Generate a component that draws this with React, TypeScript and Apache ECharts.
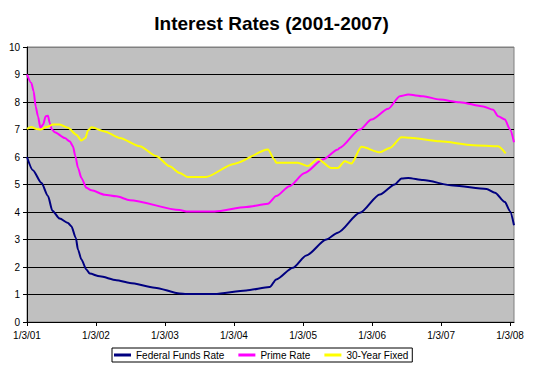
import React, { useEffect, useRef } from "react";
import * as echarts from "echarts";

const titleText = "Interest Rates (2001-2007)";
const seriesNames = ["Federal Funds Rate", "Prime Rate", "30-Year Fixed"];
const seriesColors = ["#000080", "#FF00FF", "#FFFF00"];
const xTickDates = ["2001-01-03", "2002-01-03", "2003-01-03", "2004-01-03", "2005-01-03", "2006-01-03", "2007-01-03", "2008-01-03"];
const xMinDate = "2001-01-03";
const xMaxDate = "2008-01-24";
const yTicks = [0, 1, 2, 3, 4, 5, 6, 7, 8, 9, 10];

const fedFunds: [string, number][] = [
  ["2001-01-03", 6.0], ["2001-02-03", 5.52], ["2001-03-20", 5.06], ["2001-04-24", 4.58],
  ["2001-05-17", 4.05], ["2001-06-25", 3.76], ["2001-08-08", 3.6], ["2001-08-26", 3.48],
  ["2001-09-18", 3.06], ["2001-09-30", 2.63], ["2001-10-18", 2.27], ["2001-11-13", 1.91],
  ["2001-12-01", 1.76], ["2002-01-23", 1.66], ["2002-04-21", 1.52], ["2002-07-01", 1.42],
  ["2002-11-10", 1.25], ["2003-03-22", 1.04], ["2003-04-26", 1.02], ["2003-09-22", 1.02],
  ["2004-03-08", 1.15], ["2004-07-10", 1.27], ["2004-08-14", 1.55], ["2004-11-10", 1.97],
  ["2005-01-20", 2.42], ["2005-05-06", 3.0], ["2005-07-06", 3.25], ["2005-10-30", 3.97],
  ["2006-02-13", 4.64], ["2006-05-03", 5.0], ["2006-06-08", 5.22], ["2006-07-13", 5.24],
  ["2006-09-30", 5.16], ["2007-03-08", 4.96], ["2007-09-01", 4.84], ["2007-10-15", 4.7],
  ["2007-12-07", 4.36], ["2008-01-03", 4.03], ["2008-01-24", 3.52],
];

const primeRate: [string, number][] = [
  ["2001-01-03", 9.0], ["2001-01-26", 8.69], ["2001-02-07", 8.39], ["2001-02-18", 7.84],
  ["2001-03-02", 7.48], ["2001-03-15", 7.06], ["2001-03-29", 7.18], ["2001-04-12", 7.48],
  ["2001-04-24", 7.5], ["2001-05-03", 7.24], ["2001-05-15", 7.0], ["2001-05-30", 6.9],
  ["2001-07-22", 6.69], ["2001-08-17", 6.57], ["2001-09-03", 6.39], ["2001-09-16", 6.03],
  ["2001-09-30", 5.6], ["2001-10-18", 5.24], ["2001-11-13", 4.88], ["2001-12-10", 4.79],
  ["2002-02-18", 4.63], ["2002-04-21", 4.57], ["2002-07-01", 4.43], ["2003-03-22", 4.07],
  ["2003-04-26", 4.02], ["2003-09-22", 4.02], ["2004-03-08", 4.18], ["2004-07-01", 4.3],
  ["2004-08-14", 4.58], ["2004-10-23", 4.94], ["2005-01-11", 5.42], ["2005-04-18", 5.91],
  ["2005-07-06", 6.27], ["2005-07-15", 6.33], ["2005-10-30", 7.0], ["2005-12-31", 7.36],
  ["2006-03-29", 7.75], ["2006-05-30", 8.21], ["2006-07-13", 8.27], ["2006-09-30", 8.21],
  ["2006-12-27", 8.09], ["2007-04-12", 7.99], ["2007-08-14", 7.84], ["2007-10-06", 7.72],
  ["2007-11-01", 7.48], ["2007-12-07", 7.36], ["2008-01-03", 7.0], ["2008-01-24", 6.54],
];

const fixed30: [string, number][] = [
  ["2001-01-03", 7.02], ["2001-01-26", 7.09], ["2001-02-22", 7.02], ["2001-03-15", 7.0],
  ["2001-04-16", 7.09], ["2001-05-21", 7.18], ["2001-06-25", 7.18], ["2001-08-08", 7.06],
  ["2001-09-21", 6.81], ["2001-10-18", 6.6], ["2001-11-08", 6.69], ["2001-11-22", 6.97],
  ["2001-12-10", 7.08], ["2002-02-18", 6.93], ["2002-05-09", 6.69], ["2002-08-23", 6.39],
  ["2002-11-19", 6.03], ["2003-01-28", 5.66], ["2003-03-22", 5.42], ["2003-05-04", 5.27],
  ["2003-08-06", 5.27], ["2004-01-03", 5.75], ["2004-07-01", 6.27], ["2004-08-05", 5.9],
  ["2004-08-14", 5.79], ["2004-12-06", 5.79], ["2005-01-28", 5.67], ["2005-03-22", 5.93],
  ["2005-06-01", 5.6], ["2005-07-06", 5.6], ["2005-08-11", 5.85], ["2005-09-15", 5.76],
  ["2005-11-08", 6.37], ["2006-02-13", 6.17], ["2006-04-07", 6.33], ["2006-06-08", 6.72],
  ["2006-07-22", 6.7], ["2006-12-27", 6.57], ["2007-06-22", 6.43], ["2007-11-01", 6.39],
  ["2007-12-11", 6.13],
];

const FONT = 'Arial, "Liberation Sans", sans-serif';

function ts(s: string): number {
  const [y, m, d] = s.split("-").map(Number);
  return new Date(y, m - 1, d).getTime();
}

function fmtDate(v: number): string {
  const d = new Date(v);
  return `${d.getMonth() + 1}/${d.getDate()}/${String(d.getFullYear()).slice(2)}`;
}

export default function App() {
  const ref = useRef<HTMLDivElement>(null);
  useEffect(() => {
    if (!ref.current) return;
    const chart = echarts.init(ref.current, undefined, { renderer: "svg" });
    const allSeries = [fedFunds, primeRate, fixed30];
    const splitColors = yTicks.map((v) => (v === 10 ? "#808080" : "#000000"));
    chart.setOption({
      animation: false,
      backgroundColor: "#FFFFFF",
      textStyle: { fontFamily: FONT },
      graphic: [
        {
          type: "text",
          x: 271.5,
          y: 14,
          style: {
            text: titleText,
            font: `bold 19px ${FONT}`,
            fill: "#000000",
            textAlign: "center",
            textVerticalAlign: "top",
          },
        },
      ],
      grid: {
        left: 27,
        right: 23,
        top: 47,
        bottom: 46,
        show: true,
        backgroundColor: "#C0C0C0",
        borderColor: "#808080",
        borderWidth: 1,
      },
      legend: {
        data: seriesNames,
        left: 112,
        top: 348,
        orient: "horizontal",
        icon: "rect",
        itemWidth: 17,
        itemHeight: 3,
        itemGap: 14,
        padding: [2, 4, 2, 2],
        borderColor: "#000000",
        borderWidth: 1,
        backgroundColor: "#FFFFFF",
        textStyle: { fontFamily: FONT, fontSize: 10, color: "#000000", padding: [0, 0, 0, 0] },
      },
      xAxis: {
        type: "value",
        min: ts(xMinDate),
        max: ts(xMaxDate),
        splitLine: { show: false },
        axisLine: { show: true, onZero: false, lineStyle: { color: "#000000", width: 1 } },
        axisTick: {
          show: true,
          length: 4,
          lineStyle: { color: "#000000" },
          customValues: xTickDates.map(ts),
        },
        axisLabel: {
          show: true,
          fontFamily: FONT,
          fontSize: 10,
          color: "#000000",
          margin: 8,
          customValues: xTickDates.map(ts),
          formatter: (v: number) => fmtDate(v),
        },
      },
      yAxis: {
        type: "value",
        min: 0,
        max: 10,
        interval: 1,
        axisLine: { show: true, lineStyle: { color: "#000000", width: 1 } },
        axisTick: { show: true, length: 4, lineStyle: { color: "#000000" } },
        axisLabel: { fontFamily: FONT, fontSize: 10, color: "#000000", margin: 7 },
        splitLine: { show: true, lineStyle: { color: splitColors, width: 1 } },
      },
      series: allSeries.map((pts, i) => ({
        name: seriesNames[i],
        type: "line",
        data: pts.map(([d, v]) => [ts(d), v]),
        showSymbol: false,
        symbol: "none",
        smooth: 0.25,
        smoothMonotone: "x",
        lineStyle: { color: seriesColors[i], width: 2 },
        itemStyle: { color: seriesColors[i] },
        z: 2 + i,
      })),
    });
    return () => chart.dispose();
  }, []);
  return (
    <div
      ref={ref}
      style={{ position: "fixed", left: 0, top: 0, width: 537, height: 368, background: "#fff" }}
    />
  );
}
